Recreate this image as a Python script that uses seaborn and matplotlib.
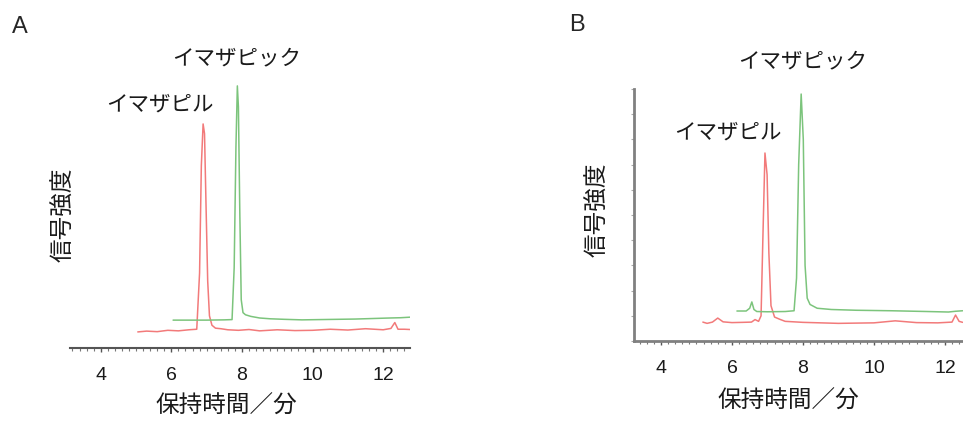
import pandas as pd
import matplotlib.pyplot as plt
import seaborn as sns
from matplotlib.ticker import MultipleLocator

# ---- data (time in min, relative signal) ----
# Panel A
a_red_t = [5.05, 5.3, 5.6, 5.9, 6.2, 6.5, 6.72, 6.80, 6.85, 6.90, 6.94, 6.98, 7.03,
           7.08, 7.15, 7.25, 7.4, 7.6, 7.9, 8.2, 8.5, 9.0, 9.5, 10.0, 10.5, 11.0,
           11.5, 12.0, 12.22, 12.33, 12.42, 12.6, 12.76]
a_red_y = [6.0, 6.3, 6.1, 6.6, 6.4, 6.8, 7.0, 28, 68, 83.6, 80, 55, 25,
           12, 8.5, 7.4, 7.2, 6.8, 6.6, 6.9, 6.4, 6.8, 6.5, 6.6, 7.0, 6.7,
           7.2, 6.8, 7.3, 9.5, 7.0, 7.0, 6.9]
a_grn_t = [6.05, 6.5, 7.0, 7.5, 7.72, 7.78, 7.83, 7.87, 7.90, 7.94, 7.98, 8.03,
           8.1, 8.25, 8.5, 8.8, 9.2, 9.7, 10.2, 10.7, 11.2, 11.7, 12.2, 12.5, 12.76]
a_grn_y = [10.4, 10.4, 10.4, 10.5, 10.6, 30, 75, 97.8, 90, 50, 18, 13.2,
           12.4, 11.8, 11.2, 10.9, 10.7, 10.5, 10.6, 10.7, 10.8, 11.0, 11.2, 11.3, 11.5]

# Panel B
b_red_t = [5.18, 5.3, 5.45, 5.6, 5.75, 6.0, 6.3, 6.55, 6.65, 6.75, 6.82, 6.87,
           6.93, 6.99, 7.04, 7.1, 7.2, 7.35, 7.5, 8.0, 8.5, 9.0, 9.5, 10.0, 10.6,
           11.2, 11.8, 12.2, 12.3, 12.4, 12.5]
b_red_y = [7.5, 7.0, 7.5, 9.1, 7.6, 7.3, 7.4, 7.5, 8.5, 7.8, 10, 40,
           74.6, 66, 35, 14, 9.5, 8.6, 7.8, 7.4, 7.2, 7.0, 7.1, 7.2, 8.0,
           7.3, 7.2, 7.5, 10.3, 7.8, 7.4]
b_grn_t = [6.14, 6.4, 6.5, 6.56, 6.62, 6.7, 7.0, 7.5, 7.75, 7.82, 7.88, 7.95,
           8.01, 8.06, 8.12, 8.2, 8.4, 8.8, 9.5, 10.5, 11.5, 12.1, 12.3, 12.5]
b_grn_y = [11.9, 11.9, 13.0, 15.5, 12.5, 11.7, 11.6, 11.7, 12.0, 25, 70, 98,
           80, 30, 17, 14.5, 13.0, 12.5, 12.2, 12.0, 11.7, 11.5, 11.8, 12.0]

xticks = [4, 6, 8, 10, 12]
peak_names = ["イマザピック", "イマザピル"]

RED = "#f27a7a"
GREEN = "#7cc47c"
JP = ["Noto Sans CJK JP", "DejaVu Sans"]

sns.set_theme(style="white")
plt.rcParams["font.family"] = ["Liberation Sans", "Noto Sans CJK JP", "DejaVu Sans"]

fig = plt.figure(figsize=(9.63, 4.21), dpi=100)
axA = fig.add_axes([70 / 963, 73 / 421, 340 / 963, 268 / 421])
axB = fig.add_axes([634 / 963, 80 / 421, 329 / 963, 252 / 421])

sns.lineplot(x=a_red_t, y=a_red_y, ax=axA, color=RED, lw=1.1)
sns.lineplot(x=a_grn_t, y=a_grn_y, ax=axA, color=GREEN, lw=1.1)
sns.lineplot(x=b_red_t, y=b_red_y, ax=axB, color=RED, lw=1.1)
sns.lineplot(x=b_grn_t, y=b_grn_y, ax=axB, color=GREEN, lw=1.1)

axA.set_xlim(3.13, 12.76)
axB.set_xlim(3.24, 12.51)
for ax in (axA, axB):
    ax.set_ylim(0, 100)
    ax.set_xticks(xticks)
    ax.xaxis.set_minor_locator(MultipleLocator(0.2))
    ax.tick_params(axis="x", which="major", bottom=True, length=3, width=1,
                   color="#555555", labelsize=14, pad=11, labelcolor="#1a1a1a")
    ax.tick_params(axis="x", which="minor", bottom=True, length=2, width=0.8,
                   color="#777777")
    ax.set_facecolor("none")

# panel A: only the time axis
sns.despine(ax=axA, left=True)
axA.set_yticks([])
axA.spines["bottom"].set_color("#555555")
axA.spines["bottom"].set_linewidth(1.5)

# panel B: both axes in grey
sns.despine(ax=axB)
for side in ("left", "bottom"):
    axB.spines[side].set_color("#808080")
    axB.spines[side].set_linewidth(2)
axB.set_yticks([])
axB.yaxis.set_minor_locator(MultipleLocator(10))
axB.tick_params(axis="y", which="minor", left=True, length=2, width=0.8, color="#aaaaaa")

# axis labels
axA.set_xlabel("保持時間／分", fontsize=17, family=JP, color="#1a1a1a")
axA.xaxis.set_label_coords(0.459, -0.175)
axA.set_ylabel("信号強度", fontsize=17, family=JP, color="#1a1a1a")
axA.yaxis.set_label_coords(0.015, 0.496)
axB.set_xlabel("保持時間／分", fontsize=17, family=JP, color="#1a1a1a")
axB.xaxis.set_label_coords(0.468, -0.194)
axB.set_ylabel("信号強度", fontsize=17, family=JP, color="#1a1a1a")
axB.yaxis.set_label_coords(-0.076, 0.52)

# peak labels
for ax, pos in ((axA, [(7.86, 108), (5.68, 90.7)]), (axB, [(8.0, 111), (5.89, 82.9)])):
    for name, (x, y) in zip(peak_names, pos):
        ax.text(x, y, name, fontsize=15.5, family=JP, color="#1a1a1a",
                ha="center", va="center", clip_on=False)

# panel letters
fig.text(20 / 963, 1 - 27 / 421, "A", fontsize=17, ha="center", va="center")
fig.text(577 / 963, 1 - 25 / 421, "B", fontsize=17, ha="center", va="center")

fig.savefig("out.png", dpi=100)
